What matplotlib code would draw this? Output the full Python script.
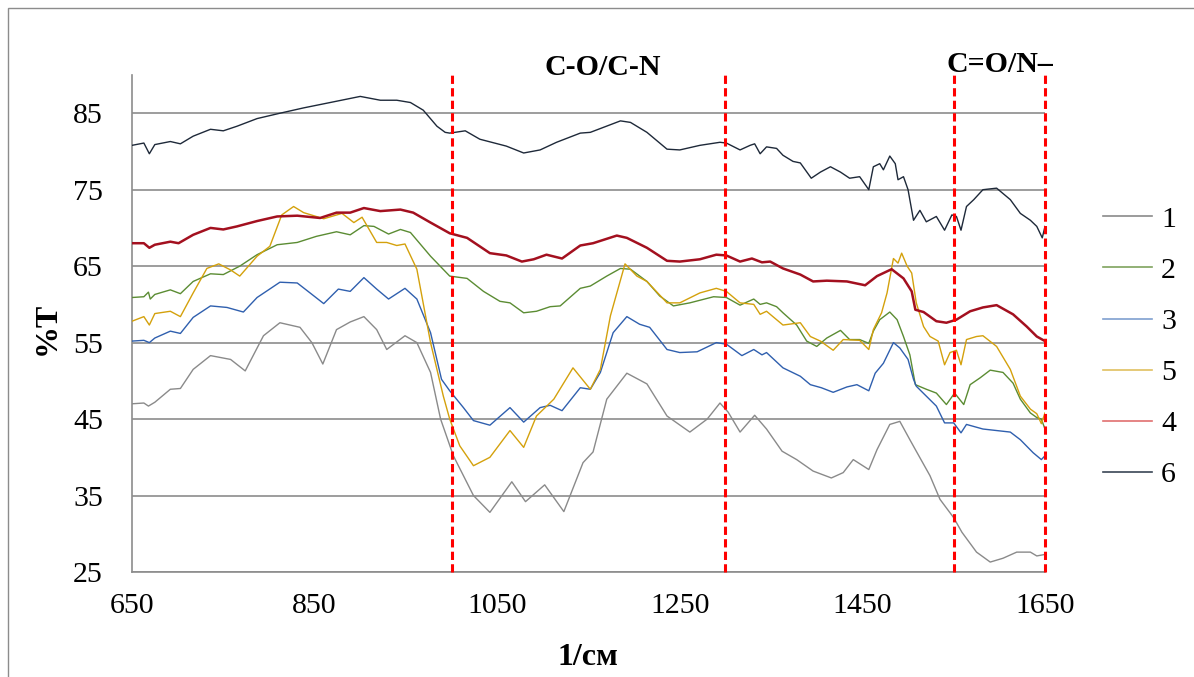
import matplotlib
matplotlib.use("Agg")
import matplotlib.pyplot as plt
from matplotlib.lines import Line2D
from matplotlib.patches import Rectangle

plt.rcParams["font.family"] = ["Liberation Serif", "DejaVu Serif"]

# ── data ──────────────────────────────────────────────────────────────────────
x1 = [650, 663, 668, 675, 692, 703, 717, 736, 758, 774, 794, 812, 834, 847, 859, 874, 889, 904,
      918, 929, 949, 962, 977, 988,
      1002, 1024, 1042, 1066, 1081, 1102, 1123, 1144, 1155, 1170, 1192, 1214, 1236, 1261, 1280,
      1294, 1303, 1316, 1332,
      1345, 1362, 1378, 1396, 1416, 1429, 1440, 1457, 1466, 1480, 1491, 1502, 1509, 1524, 1535,
      1550, 1559, 1575, 1590, 1604, 1619, 1634, 1641, 1650]
y1 = [47.0, 47.1, 46.7, 47.2, 48.9, 49.0, 51.5, 53.3, 52.8, 51.3, 55.9, 57.6, 57.0, 55.0, 52.2,
      56.7, 57.7, 58.4, 56.7, 54.1, 55.9, 55.0, 51.1, 45.0,
      40.2, 35.0, 32.8, 36.8, 34.2, 36.4, 32.9, 39.3, 40.7, 47.6, 51.0, 49.6, 45.4, 43.3, 45.0,
      47.1, 45.9, 43.3, 45.5,
      43.7, 40.8, 39.7, 38.2, 37.3, 38.0, 39.7, 38.4, 41.0, 44.3, 44.7, 42.3, 40.8, 37.6, 34.5,
      32.1, 30.2, 27.6, 26.3, 26.8, 27.6, 27.6, 27.1, 27.3]

x2 = [650, 663, 668, 670, 675, 692, 703, 717, 736, 750, 768, 787, 809, 831, 852, 874, 889, 904,
      915, 931, 944, 955, 977,
      998, 1017, 1035, 1053, 1064, 1079, 1093, 1108, 1119, 1141, 1152, 1170, 1185, 1196, 1214,
      1228, 1243, 1261, 1287, 1301, 1316, 1331,
      1338, 1345, 1356, 1363, 1378, 1389, 1400, 1411, 1426, 1436, 1447, 1457, 1462, 1469, 1480,
      1488, 1495, 1502, 1508, 1520, 1531, 1542, 1551, 1561, 1568, 1579, 1590, 1604, 1615, 1623,
      1634, 1641, 1646, 1650]
y2 = [60.9, 61.0, 61.6, 60.7, 61.3, 61.9, 61.4, 63.0, 64.0, 63.9, 65.0, 66.5, 67.8, 68.1, 68.9,
      69.5, 69.1, 70.3, 70.2, 69.2, 69.8, 69.4, 66.3,
      63.7, 63.4, 61.7, 60.4, 60.2, 58.9, 59.1, 59.7, 59.8, 62.1, 62.4, 63.7, 64.7, 64.6, 63.0,
      61.1, 59.8, 60.2, 61.0, 60.9, 59.9, 60.7,
      60.0, 60.2, 59.7, 58.9, 57.3, 55.2, 54.5, 55.6, 56.6, 55.4, 55.4, 54.9, 56.5, 58.0, 59.0,
      58.0, 55.8, 53.4, 49.5, 48.9, 48.4, 46.9, 48.4, 46.9, 49.5, 50.4, 51.4, 51.1, 49.7, 47.6,
      45.8, 45.2, 45.0, 43.7]

x3 = [650, 663, 669, 675, 692, 703, 717, 736, 754, 772, 787, 812, 831, 845, 860, 876, 889, 904,
      918, 931, 949, 962, 977, 989,
      998, 1013, 1024, 1042, 1064, 1079, 1097, 1108, 1121, 1141, 1152, 1163, 1177, 1192, 1206,
      1217, 1236, 1250, 1269, 1290, 1301, 1318, 1331,
      1340, 1345, 1363, 1382, 1393, 1405, 1418, 1433, 1444, 1457, 1464, 1473, 1484, 1491, 1500,
      1506, 1509, 1520, 1531, 1540, 1550, 1558, 1564, 1582, 1612, 1623, 1637, 1646, 1650]
y3 = [55.2, 55.3, 55.0, 55.6, 56.5, 56.2, 58.3, 59.8, 59.6, 59.0, 60.9, 62.9, 62.8, 61.5, 60.1,
      62.0, 61.7, 63.5, 62.0, 60.7, 62.1, 60.7, 56.3, 50.2,
      48.7, 46.5, 44.8, 44.2, 46.5, 44.6, 46.5, 46.8, 46.1, 49.1, 48.9, 51.1, 56.3, 58.4, 57.4,
      57.0, 54.1, 53.7, 53.8, 55.0, 54.8, 53.3, 54.1,
      53.4, 53.7, 51.7, 50.6, 49.5, 49.1, 48.5, 49.2, 49.5, 48.7, 51.0, 52.3, 55.0, 54.3, 52.8,
      50.2, 49.3, 48.0, 46.7, 44.5, 44.5, 43.2, 44.3, 43.7, 43.3, 42.3, 40.6, 39.7, 40.2]

x5 = [650, 663, 669, 675, 692, 703, 717, 732, 745, 758, 768, 787, 801, 814, 827, 838, 860, 880,
      893, 902, 918, 929, 940, 949, 962, 977, 991,
      998, 1009, 1024, 1042, 1064, 1079, 1093, 1112, 1133, 1152, 1163, 1174, 1190, 1203, 1214,
      1236, 1250, 1272, 1290, 1301, 1316, 1331,
      1338, 1345, 1363, 1382, 1393, 1404, 1418, 1429, 1447, 1457, 1462, 1471, 1477, 1484, 1489,
      1493, 1499, 1504, 1509, 1517, 1524, 1533, 1540, 1546, 1553, 1558, 1564, 1575, 1582, 1597,
      1612, 1623, 1634, 1641, 1646, 1650]
y5 = [57.8, 58.4, 57.3, 58.8, 59.1, 58.4, 61.5, 64.7, 65.3, 64.5, 63.7, 66.3, 67.6, 71.7, 72.8,
      72.0, 71.2, 71.9, 70.7, 71.4, 68.1, 68.1, 67.7, 67.9, 64.6, 55.0, 48.0,
      45.0, 41.5, 38.9, 40.0, 43.5, 41.3, 45.4, 47.6, 51.7, 48.9, 51.5, 58.5, 65.3, 63.7, 63.0,
      60.2, 60.2, 61.5, 62.1, 61.7, 60.2, 60.0,
      58.7, 59.1, 57.3, 57.6, 55.8, 55.2, 54.0, 55.4, 55.3, 54.1, 56.7, 58.9, 61.5, 66.0, 65.4,
      66.7, 65.0, 64.1, 60.2, 57.1, 55.8, 55.2, 52.1, 53.7, 54.0, 52.1, 55.4, 55.8, 55.9, 54.5,
      51.5, 48.0, 46.3, 45.7, 44.4, 45.8]

x4 = [650, 663, 669, 675, 692, 701, 717, 736, 750, 765, 787, 809, 831, 856, 874, 889, 904, 922,
      944, 958, 977,
      998, 1017, 1042, 1060, 1077, 1090, 1104, 1121, 1141, 1155, 1181, 1192, 1214, 1236, 1250,
      1272, 1290, 1301, 1316, 1329,
      1340, 1349, 1363, 1382, 1396, 1411, 1433, 1453, 1466, 1482, 1495, 1504, 1508, 1517, 1531,
      1542, 1553, 1568, 1582, 1597, 1615, 1630, 1641, 1650]
y4 = [68.0, 68.0, 67.4, 67.8, 68.2, 68.0, 69.1, 70.0, 69.8, 70.2, 70.9, 71.5, 71.6, 71.3, 72.0,
      72.0, 72.6, 72.2, 72.4, 72.0, 70.7,
      69.3, 68.7, 66.7, 66.4, 65.6, 65.9, 66.5, 66.0, 67.7, 68.0, 69.0, 68.7, 67.4, 65.7, 65.6,
      65.9, 66.5, 66.4, 65.6, 66.0,
      65.5, 65.6, 64.7, 63.9, 63.0, 63.1, 63.0, 62.5, 63.7, 64.6, 63.4, 61.7, 59.3, 59.0, 57.8,
      57.6, 58.0, 59.1, 59.6, 59.9, 58.7, 57.1, 55.8, 55.2]

x6 = [650, 663, 669, 675, 692, 703, 717, 736, 750, 765, 787, 812, 838, 867, 900, 922, 940, 955,
      969, 984, 993,
      998, 1015, 1031, 1060, 1079, 1097, 1115, 1141, 1152, 1185, 1196, 1214, 1236, 1250, 1272,
      1294, 1301, 1316, 1327, 1332,
      1338, 1345, 1356, 1363, 1374, 1382, 1394, 1404, 1415, 1426, 1436, 1447, 1457, 1462, 1469,
      1473, 1480, 1486, 1489, 1495, 1500, 1506, 1513, 1520, 1531, 1540, 1548, 1553, 1558, 1564,
      1572, 1582, 1597, 1612, 1623, 1634, 1641, 1647, 1650]
y6 = [80.8, 81.1, 79.7, 80.9, 81.3, 81.0, 82.0, 82.9, 82.7, 83.3, 84.3, 85.0, 85.7, 86.4, 87.2,
      86.7, 86.7, 86.4, 85.4, 83.3, 82.5,
      82.4, 82.7, 81.6, 80.7, 79.8, 80.2, 81.2, 82.4, 82.5, 84.0, 83.8, 82.5, 80.3, 80.2, 80.8,
      81.2, 81.1, 80.2, 80.8, 81.0,
      79.7, 80.6, 80.4, 79.5, 78.7, 78.5, 76.5, 77.3, 78.0, 77.3, 76.5, 76.7, 75.0, 78.0, 78.4,
      77.6, 79.4, 78.4, 76.3, 76.7, 75.0, 71.0, 72.3, 70.8, 71.5, 69.7, 71.7, 71.5, 69.7, 72.8,
      73.7, 75.0, 75.2, 73.7, 71.9, 71.0, 70.2, 68.7, 70.2]

labels = ["1", "2", "3", "5", "4", "6"]
series_x = [x1, x2, x3, x5, x4, x6]
series_y = [y1, y2, y3, y5, y4, y6]
colors = ["#8a8a8a", "#5b8c33", "#2f5fae", "#d4a10c", "#a3101f", "#1e2939"]
legend_colors = ["#8a8a8a", "#7fa35e", "#7f9fcf", "#e0c060", "#e07070", "#3a4555"]
widths = [1.0, 1.0, 1.0, 1.0, 1.8, 1.0]

region_bounds = [1000, 1300, 1550, 1650]
xticks = [650, 850, 1050, 1250, 1450, 1650]
yticks = [25, 35, 45, 55, 65, 75, 85]

# ── figure ────────────────────────────────────────────────────────────────────
W, H = 1194, 677
fig = plt.figure(figsize=(W / 100, H / 100), dpi=100)
fig.patch.set_facecolor("white")
fig.patches.append(Rectangle((8 / W, -0.05), 1.1, 1 - 8 / H + 0.05, transform=fig.transFigure,
                             fill=False, edgecolor="#8c8c8c", linewidth=1.0))

ax = fig.add_axes([132 / W, 1 - 572 / H, 913 / W, 497 / H])
ax.set_xlim(650, 1650)
ax.set_ylim(25, 90)

for xs, ys, c, lw, lab in zip(series_x, series_y, colors, widths, labels):
    ax.plot(xs, ys, color=c, linewidth=lw, label=lab, zorder=3)

for xb in region_bounds:
    ax.axvline(xb, color="#ff0000", linewidth=2.2, linestyle=(0, (2.7, 1.4)), zorder=4,
               clip_on=False)

ax.set_xticks(xticks)
ax.set_yticks(yticks)
ax.tick_params(length=0, labelsize=21.5, colors="black")
ax.tick_params(axis="y", pad=21)
ax.tick_params(axis="x", pad=15)
ax.grid(axis="y", color="#8c8c8c", linewidth=1.2, zorder=1)
ax.set_axisbelow(True)
for side in ("top", "right"):
    ax.spines[side].set_visible(False)
for side in ("left", "bottom"):
    ax.spines[side].set_color("#8c8c8c")
    ax.spines[side].set_linewidth(1.2)

ax.text(1166, 90, "C-O/C-N", fontsize=21.5, fontweight="bold", ha="center", va="baseline")
ax.text(1601, 90.4, "C=O/N–", fontsize=21.5, fontweight="bold", ha="center", va="baseline")

fig.text(47 / W, 1 - 328 / H, "%T", fontsize=23, fontweight="bold", rotation=90,
         ha="center", va="center")
fig.text(588 / W, 1 - 665 / H, "1/см", fontsize=23, fontweight="bold",
         ha="center", va="baseline")

handles = [Line2D([], [], color=c, linewidth=1.2) for c in legend_colors]
ax.legend(handles, labels, loc="upper left", bbox_to_anchor=(1088 / W, 1 - 191 / H),
          bbox_transform=fig.transFigure, frameon=False, fontsize=21.5,
          handlelength=1.65, handletextpad=0.3, labelspacing=0.81, borderpad=0)

fig.savefig("out.png", dpi=100, facecolor=fig.get_facecolor())
